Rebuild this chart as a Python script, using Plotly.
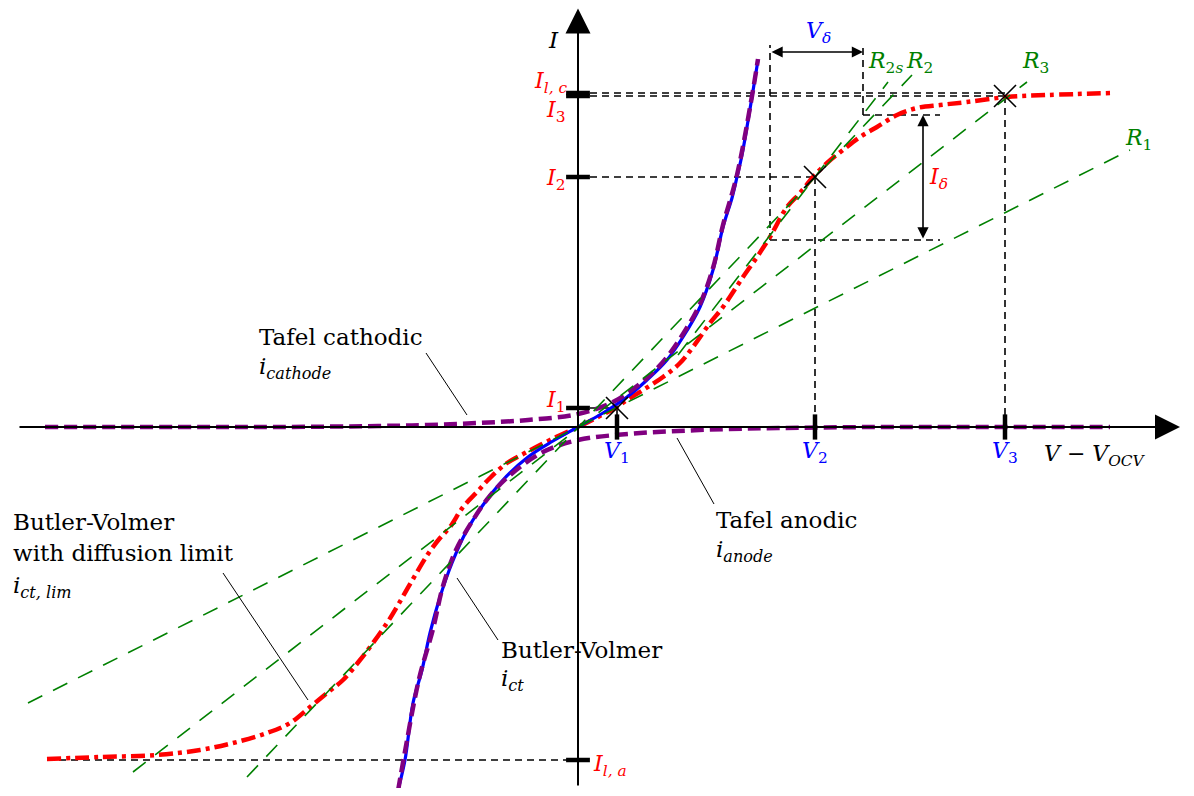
import plotly.graph_objects as go

# ---------------- data ----------------
# Butler-Volmer, i_ct
bv_v = [-1.80, -1.73, -1.65, -1.56, -1.48, -1.38, -1.26, -1.12, -0.95, -0.75, -0.50, -0.25, 0.0,
        0.25, 0.49, 0.69, 0.89, 1.05, 1.22, 1.35, 1.45, 1.54, 1.59, 1.64, 1.74, 1.80]
bv_i = [-3.63, -3.33, -2.76, -2.43, -2.06, -1.70, -1.36, -1.05, -0.78, -0.53, -0.30, -0.14, 0.0,
        0.14, 0.30, 0.47, 0.67, 0.90, 1.20, 1.57, 2.00, 2.29, 2.50, 2.72, 3.30, 3.67]

# Tafel cathodic, i_cathode
cat_v = [-5.33, -4.0, -3.0, -2.0, -1.5, -1.0, -0.5, 0.0, 0.35, 0.69, 0.89, 1.05, 1.22, 1.35, 1.45,
         1.59, 1.74, 1.80]
cat_i = [0.0, 0.0, 0.0, 0.01, 0.02, 0.04, 0.07, 0.13, 0.25, 0.49, 0.70, 0.93, 1.23, 1.59, 2.02,
         2.52, 3.31, 3.68]

# Tafel anodic, i_anode
an_v = [-1.80, -1.74, -1.59, -1.45, -1.35, -1.22, -1.05, -0.89, -0.69, -0.35, 0.0, 0.5, 1.0, 1.5,
        2.0, 3.0, 4.0, 5.32]
an_i = [-3.64, -3.30, -2.52, -2.02, -1.59, -1.23, -0.93, -0.70, -0.49, -0.25, -0.13, -0.07, -0.04,
        -0.02, -0.01, 0.0, 0.0, 0.0]

# Butler-Volmer with diffusion limit, i_ct,lim
lim_v = [-5.31, -4.78, -4.21, -3.78, -3.45, -3.11, -2.88, -2.68, -2.51, -2.35, -2.18, -2.05, -1.91,
         -1.80, -1.65, -1.50, -1.38, -1.28, -1.15, -1.01, -0.88, -0.71, -0.51, -0.28, 0.0,
         0.20, 0.39, 0.49, 0.65, 0.85, 1.02, 1.15, 1.32, 1.45, 1.65, 1.79, 1.92, 2.09, 2.22, 2.35,
         2.49, 2.65, 2.82, 2.99, 3.19, 3.39, 3.62, 3.89, 4.29, 4.70, 5.34]
lim_i = [-3.32, -3.30, -3.28, -3.23, -3.16, -3.06, -2.96, -2.80, -2.66, -2.53, -2.33, -2.16, -1.96,
         -1.78, -1.52, -1.27, -1.11, -1.00, -0.80, -0.65, -0.51, -0.36, -0.25, -0.13, 0.0,
         0.10, 0.20, 0.27, 0.37, 0.50, 0.64, 0.80, 1.04, 1.20, 1.50, 1.70, 1.90, 2.20, 2.34, 2.50,
         2.64, 2.77, 2.90, 3.00, 3.12, 3.19, 3.22, 3.25, 3.30, 3.32, 3.34]

# resistance lines (end points)
r1_v, r1_i = [-5.50, 5.52], [-2.76, 2.77]
r2_v, r2_i = [-3.31, 3.34], [-3.50, 3.52]
r2s_v, r2s_i = [1.00, 3.10], [0.72, 3.45]
r3_v, r3_i = [-4.45, 4.49], [-3.45, 3.45]

# operating points
op_v = [0.39, 2.37, 4.27]
op_i = [0.19, 2.50, 3.31]
op_v_labels = ["1", "2", "3"]

# limiting currents
i_lim_c = 3.34
i_lim_a = -3.33

# small-signal increments
v_delta = [1.92, 2.85]
i_delta = [1.87, 3.12]
v_delta_top = 3.82
i_delta_right = 3.62

# ---------------- styling ----------------
RED = "#ff0000"
BLUE = "#0000ff"
PURPLE = "#800080"
GREEN = "#008000"
SERIF = "DejaVu Serif"
FS = 23

fig = go.Figure()

def dline(x0, y0, x1, y1, color="black", width=1.6, dash="7px,5px"):
    fig.add_shape(type="line", x0=x0, y0=y0, x1=x1, y1=y1, xref="x", yref="y",
                  line=dict(color=color, width=width, dash=dash), layer="below")

# black dashed guide lines
dline(0, op_i[0], op_v[0], op_i[0])
dline(op_v[0], op_i[0], op_v[0], 0)
dline(0, op_i[1], op_v[1], op_i[1])
dline(op_v[1], op_i[1], op_v[1], 0)
dline(0, op_i[2], op_v[2], op_i[2])
dline(op_v[2], op_i[2], op_v[2], 0)
dline(0, i_lim_c, op_v[2], i_lim_c)
dline(lim_v[0], i_lim_a, 0, i_lim_a)
dline(v_delta[0], i_delta[0], v_delta[0], v_delta_top)
dline(v_delta[1], i_delta[1], v_delta[1], v_delta_top)
dline(v_delta[0], i_delta[0], i_delta_right, i_delta[0])
dline(v_delta[1], i_delta[1], i_delta_right, i_delta[1])

# leader lines
for (x0, y0, x1, y1) in [(-1.52, 0.74, -1.11, 0.12), (0.99, -0.11, 1.36, -0.77),
                         (-3.55, -1.46, -2.70, -2.73), (-1.21, -1.51, -0.80, -2.13)]:
    fig.add_shape(type="line", x0=x0, y0=y0, x1=x1, y1=y1, xref="x", yref="y",
                  line=dict(color="black", width=1))

# curves
fig.add_trace(go.Scatter(x=lim_v, y=lim_i, mode="lines", line_shape="spline",
                         line=dict(color=RED, width=4.5, dash="14px,5px,4px,5px")))
fig.add_trace(go.Scatter(x=bv_v, y=bv_i, mode="lines", line_shape="spline",
                         line=dict(color=BLUE, width=3.2)))
fig.add_trace(go.Scatter(x=cat_v, y=cat_i, mode="lines", line_shape="spline",
                         line=dict(color=PURPLE, width=4.5, dash="13px,6px")))
fig.add_trace(go.Scatter(x=an_v, y=an_i, mode="lines", line_shape="spline",
                         line=dict(color=PURPLE, width=4.5, dash="13px,6px")))
for rv, ri in [(r1_v, r1_i), (r2_v, r2_i), (r2s_v, r2s_i), (r3_v, r3_i)]:
    fig.add_trace(go.Scatter(x=rv, y=ri, mode="lines",
                             line=dict(color=GREEN, width=1.6, dash="16px,12px")))

# axes with arrow heads
fig.add_annotation(x=6.02, y=0, ax=-5.60, ay=0, xref="x", yref="y", axref="x", ayref="y",
                   text="", showarrow=True, arrowhead=2, arrowsize=2.5, arrowwidth=2,
                   arrowcolor="black")
fig.add_annotation(x=0, y=4.185, ax=0, ay=-3.60, xref="x", yref="y", axref="x", ayref="y",
                   text="", showarrow=True, arrowhead=2, arrowsize=2.5, arrowwidth=2,
                   arrowcolor="black")

# tick bars
fig.add_trace(go.Scatter(x=[0] * 5, y=[op_i[0], op_i[1], op_i[2], i_lim_c, i_lim_a], mode="markers",
                         marker=dict(symbol="line-ew", size=17, line=dict(width=4.5, color="black"))))
fig.add_trace(go.Scatter(x=op_v, y=[0] * 3, mode="markers",
                         marker=dict(symbol="line-ns", size=18, line=dict(width=4.5, color="black"))))

# operating point crosses
fig.add_trace(go.Scatter(x=op_v, y=op_i, mode="markers",
                         marker=dict(symbol="x-thin", size=22, line=dict(width=1.6, color="black"))))

# double arrows V_delta, I_delta
fig.add_annotation(x=v_delta[1], y=3.75, ax=v_delta[0], ay=3.75, xref="x", yref="y",
                   axref="x", ayref="y", text="", showarrow=True, arrowhead=2, startarrowhead=2,
                   arrowside="end+start", arrowsize=1.4, startarrowsize=1.4, arrowwidth=1.6,
                   arrowcolor="black")
fig.add_annotation(x=3.45, y=i_delta[1], ax=3.45, ay=i_delta[0], xref="x", yref="y",
                   axref="x", ayref="y", text="", showarrow=True, arrowhead=2, startarrowhead=2,
                   arrowside="end+start", arrowsize=1.4, startarrowsize=1.4, arrowwidth=1.6,
                   arrowcolor="black")

def label(x, y, text, color="black", xanchor="center", size=FS):
    fig.add_annotation(x=x, y=y, xref="x", yref="y", text=text, showarrow=False,
                       xanchor=xanchor, yanchor="middle",
                       font=dict(family=SERIF, size=size, color=color))

# axis labels
label(-0.25, 3.87, "<i>I</i>")
label(5.17, -0.28, "<i>V</i> − <i>V</i><sub><i>OCV</i></sub>", size=22)

# current tick labels
label(-0.09, 3.45, "<i>I</i><sub><i>l, c</i></sub>", RED, "right", 22)
label(-0.10, 3.16, "<i>I</i><sub>3</sub>", RED, "right", 22)
label(-0.10, 2.48, "<i>I</i><sub>2</sub>", RED, "right", 22)
label(-0.10, 0.26, "<i>I</i><sub>1</sub>", RED, "right", 22)
label(0.13, -3.38, "<i>I</i><sub><i>l, a</i></sub>", RED, "left", 22)

# voltage tick labels
for v, t in zip(op_v, op_v_labels):
    label(v, -0.25, "<i>V</i><sub>" + t + "</sub>", BLUE, size=22)

label(2.40, 3.95, "<i>V</i><sub><i>δ</i></sub>", BLUE, size=22)
label(3.49, 2.49, "<i>I</i><sub><i>δ</i></sub>", RED, "left", 22)

# resistance labels
label(3.07, 3.65, "<i>R</i><sub>2<i>s</i></sub>", GREEN, size=22)
label(3.41, 3.65, "<i>R</i><sub>2</sub>", GREEN, size=22)
label(4.57, 3.65, "<i>R</i><sub>3</sub>", GREEN, size=22)
label(5.60, 2.88, "<i>R</i><sub>1</sub>", GREEN, size=22)

# curve annotations
label(-3.21, 0.90, "Tafel cathodic", xanchor="left")
label(-3.21, 0.59, "<i>i</i><sub><i>cathode</i></sub>", xanchor="left")
label(1.36, -0.93, "Tafel anodic", xanchor="left")
label(1.36, -1.24, "<i>i</i><sub><i>anode</i></sub>", xanchor="left")
label(-5.67, -0.95, "Butler-Volmer", xanchor="left")
label(-5.67, -1.26, "with diffusion limit", xanchor="left")
label(-5.67, -1.60, "<i>i</i><sub><i>ct, lim</i></sub>", xanchor="left")
label(-0.79, -2.23, "Butler-Volmer", xanchor="left")
label(-0.79, -2.53, "<i>i</i><sub><i>ct</i></sub>", xanchor="left")

# the page body adds an 8 px margin: the ranges below place the origin where the reference has it
fig.update_layout(
    width=1178, height=780,
    margin=dict(l=0, r=0, t=0, b=0),
    paper_bgcolor="white", plot_bgcolor="white",
    showlegend=False,
    xaxis=dict(range=[-5.70, 6.08], visible=False, fixedrange=True),
    yaxis=dict(range=[-3.61, 4.19], visible=False, fixedrange=True),
)

fig.write_html("out.html")
